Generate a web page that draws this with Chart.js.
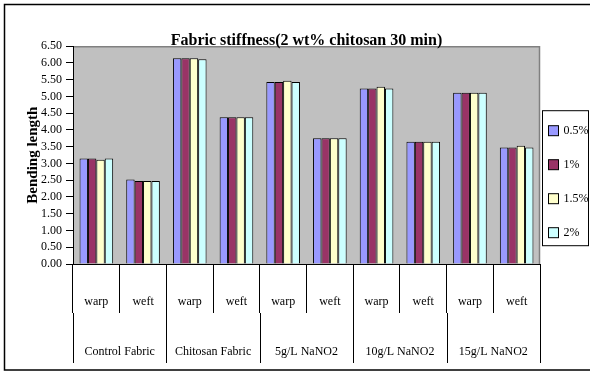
<!DOCTYPE html>
<html>
<head>
<meta charset="utf-8">
<script src="https://cdn.jsdelivr.net/npm/chart.js@4/dist/chart.umd.min.js"></script>
<style>
  html, body { margin: 0; padding: 0; background: #fff; }
  #wrap { width: 590px; height: 372px; position: relative; }
</style>
</head>
<body>
<div id="wrap"><canvas id="stiffness-chart"></canvas></div>
<script>
// categories
const directions = ["warp", "weft", "warp", "weft", "warp", "weft", "warp", "weft", "warp", "weft"];
const fabrics = ["Control Fabric", "Chitosan Fabric", "5g/L NaNO2", "10g/L NaNO2", "15g/L NaNO2"];

// bending length per concentration
const conc05 = [3.15, 2.52, 6.14, 4.38, 5.43, 3.75, 5.24, 3.65, 5.11, 3.48];
const conc1 = [3.15, 2.48, 6.14, 4.38, 5.43, 3.75, 5.24, 3.65, 5.11, 3.48];
const conc15 = [3.11, 2.48, 6.14, 4.38, 5.47, 3.75, 5.29, 3.65, 5.11, 3.53];
const conc2 = [3.15, 2.48, 6.11, 4.38, 5.43, 3.75, 5.24, 3.65, 5.11, 3.48];

const seriesNames = ["0.5%", "1%", "1.5%", "2%"];
const seriesColors = ["#9999FF", "#993366", "#FFFFCC", "#CCFFFF"];

const serif = "'Liberation Serif', 'Times New Roman', serif";

function getSeries(i) {
  return [conc05, conc1, conc15, conc2][i];
}

// grey plot area, outer frame, group labels and legend box
const decorations = {
  id: "decorations",
  beforeDraw(chart) {
    const { ctx, chartArea: a } = chart;
    ctx.save();
    ctx.fillStyle = "#C0C0C0";
    ctx.fillRect(a.left, a.top, a.right - a.left, a.bottom - a.top);
    ctx.strokeStyle = "#808080";
    ctx.lineWidth = 1.5;
    ctx.beginPath();
    ctx.moveTo(a.left, a.top + 0.5);
    ctx.lineTo(a.right - 0.5, a.top + 0.5);
    ctx.lineTo(a.right - 0.5, a.bottom);
    ctx.stroke();
    ctx.restore();
  },
  afterDraw(chart) {
    const { ctx, chartArea: a } = chart;
    const xs = chart.scales.x;
    ctx.save();

    // outer frame
    ctx.strokeStyle = "#000";
    ctx.lineWidth = 1.5;
    ctx.strokeRect(4.5, 4.5, 640, 365.5);

    // group separators and labels
    const catW = xs.getPixelForValue(1) - xs.getPixelForValue(0);
    const tl = xs.options.grid.tickLength;
    ctx.lineWidth = 1;
    ctx.strokeStyle = "#000";
    ctx.fillStyle = "#000";
    ctx.font = "12px " + serif;
    ctx.textAlign = "center";
    ctx.textBaseline = "middle";
    for (let g = 0; g <= fabrics.length; g++) {
      const bx = Math.round(xs.getPixelForValue(g * 2) - catW / 2) + 0.5;
      ctx.beginPath();
      ctx.moveTo(bx, xs.top + tl);
      ctx.lineTo(bx, xs.top + tl + 50);
      ctx.stroke();
    }
    fabrics.forEach((name, g) => {
      const cx = (xs.getPixelForValue(g * 2) + xs.getPixelForValue(g * 2 + 1)) / 2;
      ctx.fillText(name, cx, xs.top + 88);
    });

    // legend
    const lx = a.right + 2.5;
    const ly = a.top + 64.5;
    ctx.lineWidth = 1;
    ctx.strokeRect(lx, ly, 46, 135);
    ctx.font = "12px " + serif;
    ctx.textAlign = "left";
    chart.data.datasets.forEach((ds, i) => {
      const cy = ly + 20 + i * 34;
      ctx.fillStyle = ds.backgroundColor;
      ctx.fillRect(lx + 6, cy - 5, 10, 10);
      ctx.strokeStyle = "#000";
      ctx.strokeRect(lx + 6, cy - 5, 10, 10);
      ctx.fillStyle = "#000";
      ctx.fillText(ds.label, lx + 21, cy);
    });
    ctx.restore();
  }
};

new Chart(document.querySelector("#stiffness-chart").getContext("2d"), {
  type: "bar",
  data: {
    labels: directions,
    datasets: seriesNames.map((name, i) => ({
      label: name,
      data: getSeries(i),
      backgroundColor: seriesColors[i],
      borderColor: "#000",
      borderWidth: 1,
      categoryPercentage: 0.72,
      barPercentage: 1,
    })),
  },
  options: {
    responsive: true,
    maintainAspectRatio: false,
    animation: false,
    layout: { padding: { left: 0, right: 50, top: 0, bottom: 0 } },
    plugins: {
      legend: { display: false },
      tooltip: { enabled: false },
      title: {
        display: true,
        fullSize: false,
        text: "Fabric stiffness(2 wt% chitosan 30 min)",
        color: "#000",
        font: { family: serif, size: 16, weight: "bold" },
        padding: { top: 31, bottom: -4 },
      },
    },
    scales: {
      x: {
        offset: true,
        afterFit(scale) { scale.height = 108; },
        grid: {
          offset: true,
          drawOnChartArea: false,
          tickLength: 49,
          color: "#000",
          tickColor: "#000",
        },
        border: { color: "#000", width: 1 },
        ticks: {
          color: "#000",
          padding: -18,
          font: { family: serif, size: 12 },
          maxRotation: 0,
          autoSkip: false,
        },
      },
      y: {
        min: 0,
        max: 6.5,
        afterFit(scale) { scale.width = 73; },
        grid: { drawOnChartArea: false, tickLength: 7, color: "#000" },
        border: { color: "#000", width: 1 },
        ticks: {
          stepSize: 0.5,
          autoSkip: false,
          color: "#000",
          padding: 4,
          font: { family: serif, size: 12 },
          callback: (v) => Number(v).toFixed(2),
        },
        title: {
          display: true,
          text: "Bending length",
          color: "#000",
          font: { family: serif, size: 15, weight: "bold" },
          padding: { top: 24, bottom: 0 },
        },
      },
    },
  },
  plugins: [decorations],
});
</script>
</body>
</html>
